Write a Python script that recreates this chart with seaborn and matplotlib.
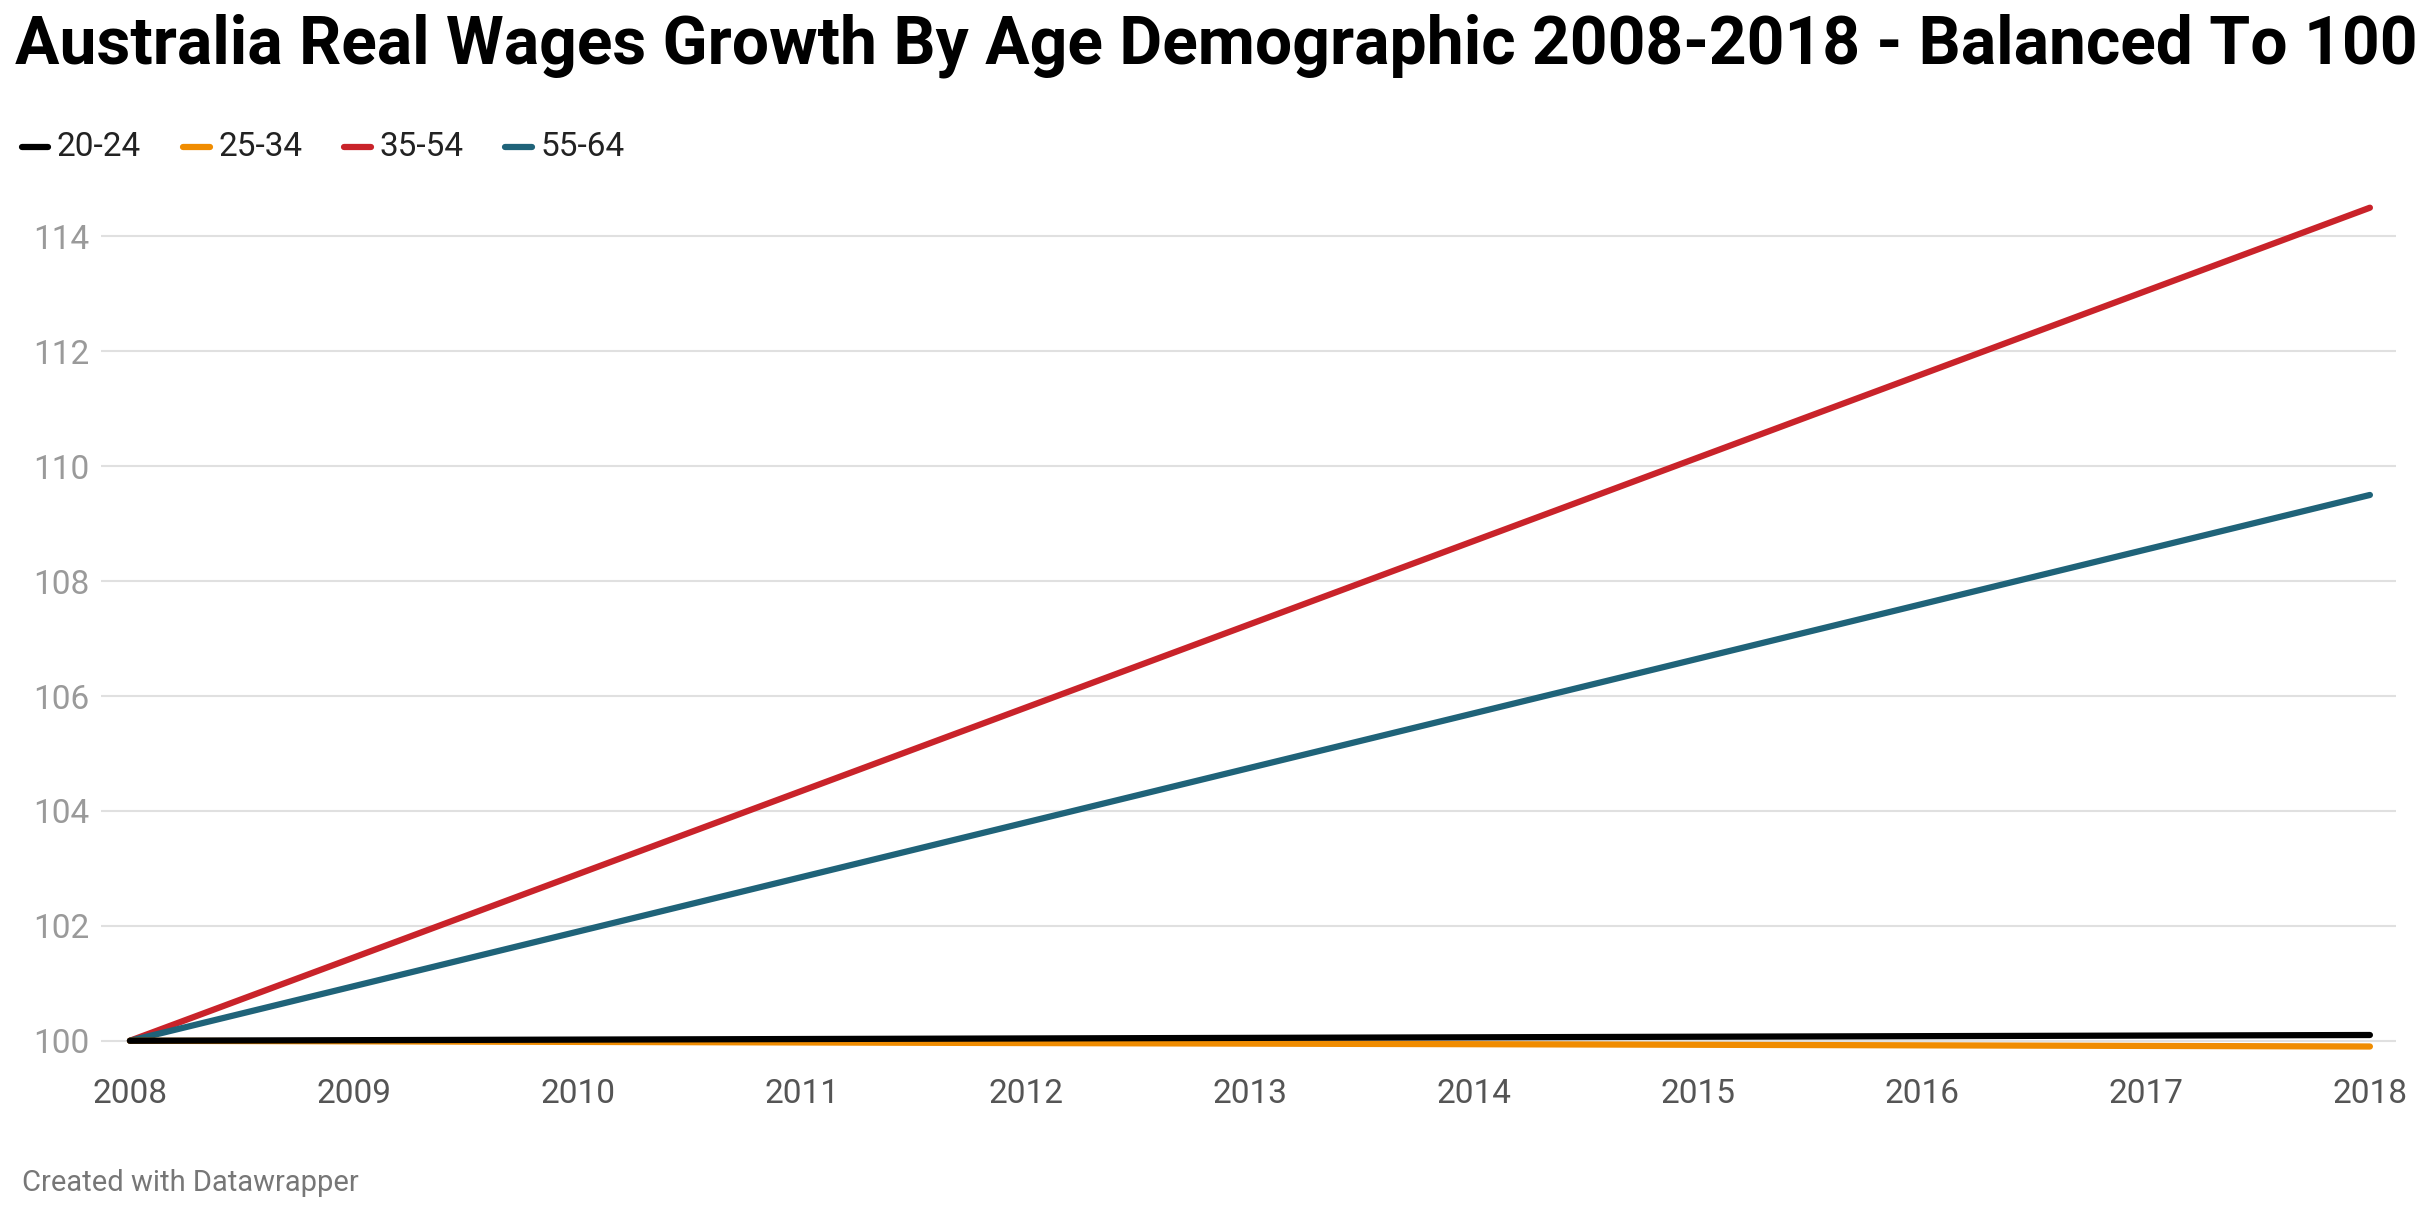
import matplotlib
matplotlib.use("Agg")
import matplotlib.pyplot as plt
import seaborn as sns
import pandas as pd

years = [2008, 2018]
s_2024 = [100.0, 100.1]
s_2534 = [100.0, 99.9]
s_3554 = [100.0, 114.5]
s_5564 = [100.0, 109.5]
names = ["20-24", "25-34", "35-54", "55-64"]
colors = ["#000000", "#f08c00", "#c9232a", "#1f6379"]
yticks = [100, 102, 104, 106, 108, 110, 112, 114]
xticks = list(range(2008, 2019))

df = pd.concat([pd.DataFrame({"year": years, "value": v, "group": n})
                for v, n in zip([s_2024, s_2534, s_3554, s_5564], names)])

sns.set_theme(style="white")
plt.rcParams["font.family"] = ["Roboto", "DejaVu Sans"]
fig = plt.figure(figsize=(24.24, 12.06), dpi=100)
ax = fig.add_axes([0.0415, 0.1132, 0.947, 0.7384])
order = ["35-54", "55-64", "25-34", "20-24"]
for n in order:
    sub = df[df.group == n]
    sns.lineplot(data=sub, x="year", y="value", color=colors[names.index(n)],
                 linewidth=4.5, ax=ax, legend=False)
ax.set_xlim(2008 - 0.131, 2018 + 0.117)
ax.set_ylim(99.5, 115)
ax.set_yticks(yticks)
ax.set_xticks(xticks)
ax.tick_params(axis="y", labelsize=24, labelcolor="#9a9a9a", length=0, pad=8)
ax.tick_params(axis="x", labelsize=24, labelcolor="#555555", length=0, pad=6)
ax.yaxis.grid(True, color="#e0e0e0", linewidth=1.5)
ax.set_axisbelow(True)
for s in ax.spines.values():
    s.set_visible(False)
ax.set_xlabel("")
ax.set_ylabel("")

fig.text(0.006, 0.962, "Australia Real Wages Growth By Age Demographic 2008-2018 - Balanced To 100",
         fontsize=47.5, fontweight="bold", va="center", ha="left", color="#000000")
x0 = 0.009
for n, c in zip(names, colors):
    fig.add_artist(plt.Line2D([x0, x0 + 0.011], [0.878, 0.878], color=c, linewidth=4.5,
                              transform=fig.transFigure))
    fig.text(x0 + 0.0145, 0.878, n, fontsize=24, va="center", ha="left", color="#222222")
    x0 += 0.0665
fig.text(0.009, 0.019, "Created with Datawrapper", fontsize=21, color="#777777", va="center")
fig.savefig("out.png", dpi=100, facecolor="white")
